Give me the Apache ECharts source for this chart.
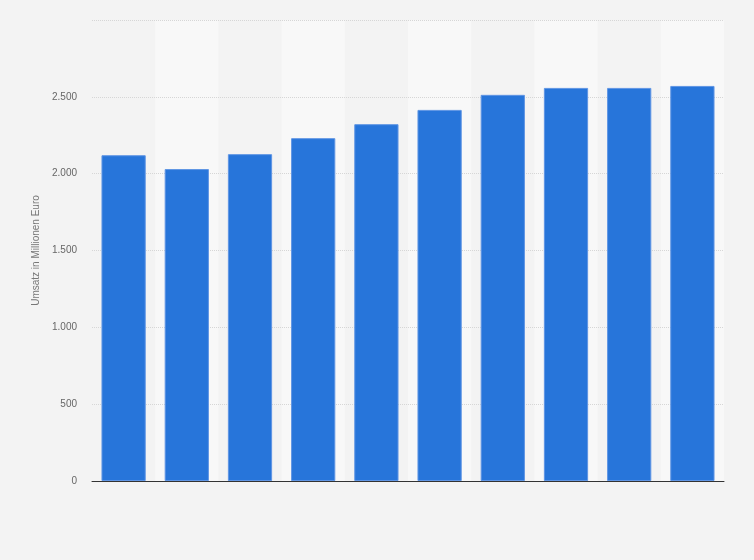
<!DOCTYPE html>
<html>
<head>
<meta charset="utf-8">
<script src="https://cdn.jsdelivr.net/npm/echarts@6/dist/echarts.min.js"></script>
<style>
  html, body { margin: 0; padding: 0; background: #f3f3f3; }
  #chart { width: 754px; height: 560px; }
</style>
</head>
<body>
<div id="chart"></div>
<script>
// Jahre (Achsenbeschriftung im Original ausgeblendet)
var jahre = ['2008', '2009', '2010', '2011', '2012', '2013', '2014', '2015', '2016', '2017'];
// Umsatz in Millionen Euro
var umsatz = [2120, 2030, 2127, 2231, 2322, 2415, 2513, 2558, 2558, 2571];
var achsenTitel = 'Umsatz in Millionen Euro';

var chart = echarts.init(document.getElementById('chart'));

var option = {
  backgroundColor: '#f3f3f3',
  textStyle: { fontFamily: 'Liberation Sans, Arial, sans-serif' },
  grid: { left: 92, right: 30, top: 20, bottom: 79 },
  xAxis: {
    type: 'category',
    data: jahre,
    z: 2,
    axisLine: { lineStyle: { color: '#333', width: 1 } },
    axisTick: { show: false },
    axisLabel: { show: false },
    splitArea: {
      show: true,
      areaStyle: { color: ['rgba(0,0,0,0)', '#f8f8f8'] }
    }
  },
  yAxis: {
    type: 'value',
    min: 0,
    max: 3000,
    interval: 500,
    z: 3,
    name: achsenTitel,
    nameLocation: 'middle',
    nameGap: 48,
    nameTextStyle: { color: '#777', fontSize: 10 },
    axisLine: { show: false },
    axisTick: { show: false },
    axisLabel: {
      color: '#666',
      fontSize: 10,
      margin: 15,
      showMaxLabel: false,
      formatter: function (v) {
        return v.toString().replace(/\B(?=(\d{3})+(?!\d))/g, '.');
      }
    },
    splitLine: {
      showMinLine: false,
      lineStyle: { color: '#d6d6d6', type: 'dotted' }
    }
  },
  series: [
    {
      type: 'bar',
      data: umsatz,
      barWidth: '70%',
      z: 4,
      itemStyle: {
        color: '#2775da',
        borderColor: '#5f95e4',
        borderWidth: 1
      }
    }
  ]
};

chart.setOption(option);
</script>
</body>
</html>
